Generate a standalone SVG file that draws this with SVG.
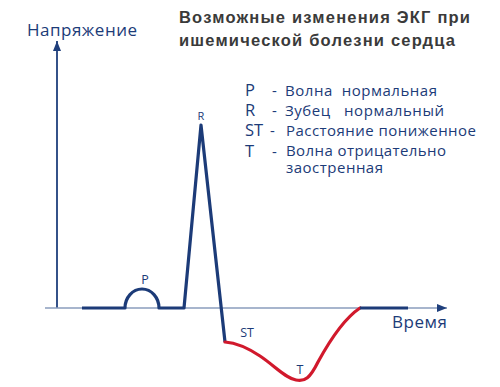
<svg xmlns="http://www.w3.org/2000/svg" width="500" height="387" viewBox="0 0 500 387">
<style>
.ax{stroke:#8a9cbd;stroke-width:1.6;fill:none}
.ay{stroke:#1f3f7c;stroke-width:1.8;fill:none}
.ecg{stroke:#1c3b78;stroke-width:3.2;fill:none;stroke-linejoin:round;stroke-linecap:butt}
.st{stroke:#d1192c;stroke-width:3.2;fill:none;stroke-linecap:round}
.lbl{font-family:"Open Sans","Noto Sans",sans-serif;fill:#1c3b78}
.title{font-family:"Liberation Sans",Arial,sans-serif;font-weight:bold;font-size:16.5px;fill:#3a3a3a}
</style>
<defs>
<marker id="arr" markerWidth="10" markerHeight="8" refX="10" refY="4" orient="auto" markerUnits="userSpaceOnUse">
<path d="M0,0 L10,4 L0,8 Z" fill="#1f3f7c"/>
</marker>
</defs>
<g id="connectors">
<line class="ay" x1="57" y1="308" x2="57" y2="41" marker-end="url(#arr)"/>
<line class="ax" x1="45" y1="308" x2="447" y2="308" marker-end="url(#arr)"/>
</g>
<g id="ecg">
<path class="ecg" d="M82,308 H125 A17,19 0 0 1 159,308 H184 L201,125 L225,342"/>
<path class="st" d="M225,342 C238,343 248,348 260,356 C275,366 285,378 296,380 C305,382 310,378 318,362 C330,340 345,318 360,308"/>
<path class="ecg" d="M360,308 H408"/>
</g>
<g id="axis-labels">
<text class="lbl" x="27" y="36" font-size="17" textLength="110">Напряжение</text>
<text class="lbl" x="392" y="328" font-size="17" textLength="55">Время</text>
</g>
<g id="wave-labels">
<text class="lbl" x="145" y="284" font-size="12.5" text-anchor="middle">P</text>
<text class="lbl" x="201" y="120" font-size="11" text-anchor="middle">R</text>
<text class="lbl" x="247" y="337" font-size="12.5" text-anchor="middle">ST</text>
<text class="lbl" x="300" y="374" font-size="12.5" text-anchor="middle">T</text>
</g>
<g id="title">
<text class="title" x="179" y="23" textLength="291">Возможные изменения ЭКГ при</text>
<text class="title" x="179" y="46" textLength="276">ишемической болезни сердца</text>
</g>
<g id="legend" class="lbl">
<text x="245" y="96" font-size="16.5">P</text>
<text x="272" y="96" font-size="15">-</text>
<text x="285" y="96" font-size="15" textLength="152" xml:space="preserve">Волна  нормальная</text>
<text x="245" y="116" font-size="16.5">R</text>
<text x="272" y="116" font-size="15">-</text>
<text x="285" y="116" font-size="15" textLength="159" xml:space="preserve">Зубец   нормальный</text>
<text x="245" y="136" font-size="16.5">ST</text>
<text x="270" y="136" font-size="15">-</text>
<text x="286" y="136" font-size="15" textLength="190">Расстояние пониженное</text>
<text x="245" y="157" font-size="16.5">T</text>
<text x="272" y="157" font-size="15">-</text>
<text x="286" y="156" font-size="15" textLength="160">Волна отрицательно</text>
<text x="286" y="173" font-size="15" textLength="97">заостренная</text>
</g>
</svg>
